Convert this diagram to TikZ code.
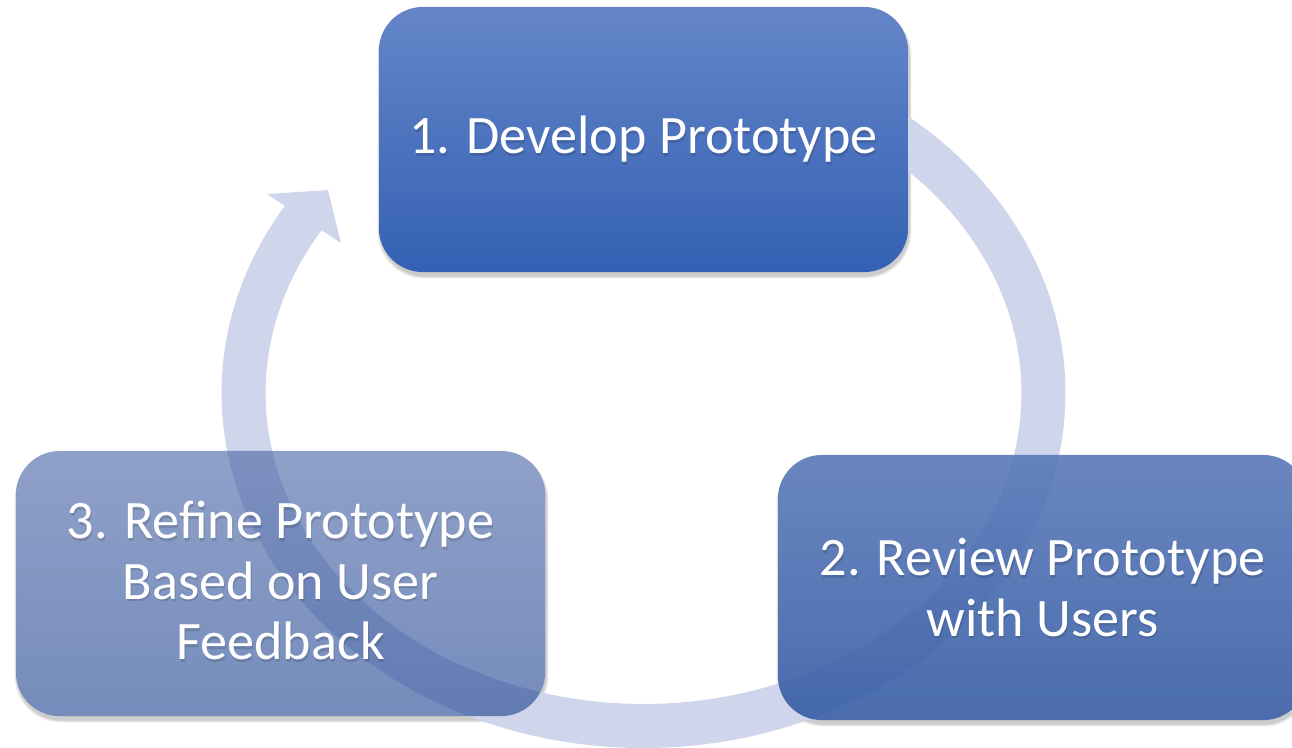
\documentclass[tikz,border=0pt]{standalone}
\usepackage{fontspec}
\setmainfont{Carlito}
\usetikzlibrary{calc}

\definecolor{ringblue}{RGB}{207,213,234}
\definecolor{oneTop}{RGB}{101,133,200}
\definecolor{oneBot}{RGB}{52,97,180}
\definecolor{twoTop}{RGB}{89,121,184}
\definecolor{twoBot}{RGB}{54,92,164}
\definecolor{threeTop}{RGB}{75,103,167}
\definecolor{threeBot}{RGB}{32,69,146}

\tikzset{
  stagebox/.style={rounded corners=0.44cm, minimum width=5.29cm,
    minimum height=2.65cm, inner sep=0pt},
  stagetext/.style={align=center, text=white, inner sep=0pt,
    font=\fontsize{15.4}{17.2}\selectfont},
  textshade/.style={stagetext, text=black, text opacity=0.13},
  ring/.style={draw=ringblue, line width=0.44cm, line join=round},
}

% soft shadow kept outside a rounded box: #1,#2 = corners (pixel units)
\newcommand{\softshadow}[2]{%
  \begin{scope}[even odd rule]
    \clip (-20,-20) rectangle (1320,770)
      {[rounded corners=0.44cm] #1 rectangle #2};
    \foreach \g in {1,2,3,4,5}{
      \fill[black, opacity=0.045, rounded corners=0.46cm]
        ($#1+(1-\g/2,4-\g/2)$) rectangle ($#2+(1+\g/2,4+\g/2)$);
    }
  \end{scope}}

\begin{document}
\begin{tikzpicture}[x=0.01cm, y=-0.01cm]
  \useasboundingbox (0,0) rectangle (1292,747);
  \clip (0,0) rectangle (1292,747);

  % shadows under the three stages
  \softshadow{(379,7)}{(908,272)}
  \softshadow{(778,455)}{(1307,720)}
  \softshadow{(16,451)}{(545,716)}

  % the cycle arrow: elliptical band and its head
  \draw[ring] plot[domain=-80:212, samples=160, variable=\t]
    ({643.5+400*cos(\t)},{393+333*sin(\t)});
  \coordinate (headOut) at (267,194);
  \coordinate (headTip) at (328,190);
  \coordinate (headIn)  at (341,243);
  \fill[ringblue] (headOut) -- (headTip) -- (headIn) -- cycle;

  % stage boxes
  \node[stagebox, top color=oneTop, bottom color=oneBot] (s1) at (643.5,139.5) {};
  \node[stagebox, top color=twoTop, bottom color=twoBot, fill opacity=0.9] (s2) at (1042.5,587.5) {};
  \node[stagebox, top color=threeTop, bottom color=threeBot, fill opacity=0.62] (s3) at (280.5,583.5) {};

  % stage labels with a faint shadow
  \node[textshade] (t1s) at ($(s1)+(1,2.5)$) {1. Develop Prototype};
  \node[stagetext] (t1) at (s1) {1. Develop Prototype};
  \node[textshade] (t2s) at ($(s2)+(1,2.5)$) {2. Review Prototype\\with Users};
  \node[stagetext] (t2) at (s2) {2. Review Prototype\\with Users};
  \node[textshade] (t3s) at ($(s3)+(1,-0.5)$) {3. Refine Prototype\\Based on User\\Feedback};
  \node[stagetext] (t3) at ($(s3)+(0,-3)$) {3. Refine Prototype\\Based on User\\Feedback};
\end{tikzpicture}
\end{document}
